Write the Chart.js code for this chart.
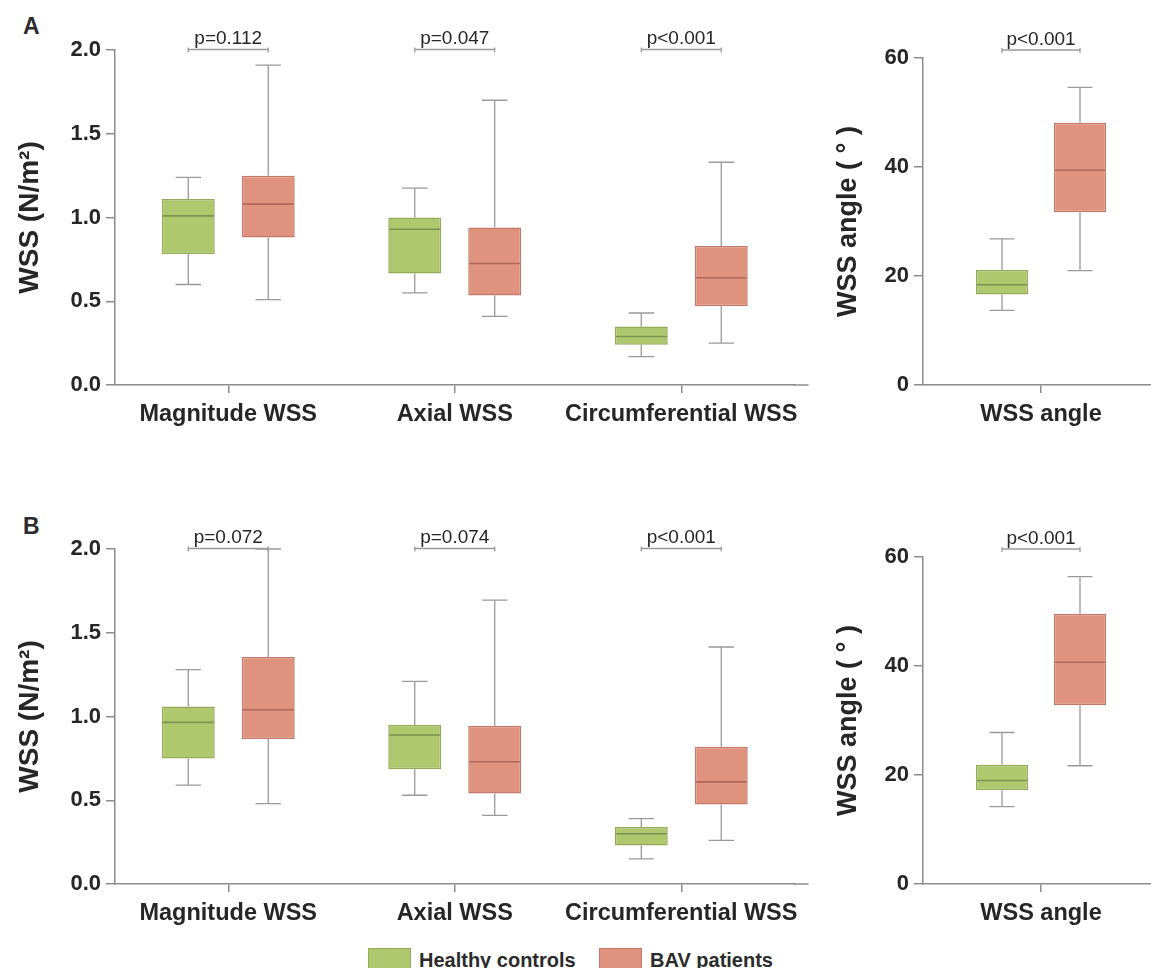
<!DOCTYPE html>
<html>
<head>
<meta charset="utf-8">
<script src="https://cdn.jsdelivr.net/npm/chart.js@4.4.1/dist/chart.umd.min.js"></script>
<style>
    html, body { margin: 0; padding: 0; overflow: hidden; background: #fff; }
    body { width: 1151px; height: 968px; position: relative; font-family: "Liberation Sans", Arial, sans-serif; color: #2b2b2b; }
    canvas { position: absolute; }
    .panel-label { position: absolute; font-weight: bold; font-size: 23px; line-height: 23px; }
    .legend-box { position: absolute; width: 43px; height: 24px; box-sizing: border-box; }
    .legend-text { position: absolute; font-weight: bold; font-size: 20px; line-height: 20px; white-space: nowrap; }
</style>
</head>
<body>
<div class="panel-label" style="left:23px; top:15px;">A</div>
<div class="panel-label" style="left:23px; top:515px;">B</div>

<canvas id="chartA" width="815" height="440" style="left:0; top:0;"></canvas>
<canvas id="chartAngleA" width="365" height="440" style="left:800px; top:0;"></canvas>
<canvas id="chartB" width="815" height="440" style="left:0; top:499px;"></canvas>
<canvas id="chartAngleB" width="365" height="440" style="left:800px; top:499px;"></canvas>

<div id="legend"></div>

<script>
// categories and series
const categories = ["Magnitude WSS", "Axial WSS", "Circumferential WSS"];
const angleCategories = ["WSS angle"];
const seriesNames = ["Healthy controls", "BAV patients"];
const wssTicks = [0, 0.5, 1.0, 1.5, 2.0];
const angleTicks = [0, 20, 40, 60];

// each box: [lower whisker, Q1, median, Q3, upper whisker]
const healthyA = [[0.60, 0.78, 1.01, 1.11, 1.24], [0.55, 0.665, 0.93, 1.00, 1.175], [0.17, 0.24, 0.29, 0.35, 0.43]];
const bavA = [[0.51, 0.88, 1.08, 1.25, 1.91], [0.41, 0.535, 0.725, 0.94, 1.70], [0.25, 0.47, 0.64, 0.83, 1.33]];
const healthyAngleA = [[13.7, 16.6, 18.4, 21.1, 26.8]];
const bavAngleA = [[21.0, 31.7, 39.4, 48.1, 54.6]];
const pValuesA = ["p=0.112", "p=0.047", "p<0.001"];
const pAngleA = ["p<0.001"];

const healthyB = [[0.59, 0.75, 0.965, 1.06, 1.28], [0.53, 0.685, 0.89, 0.95, 1.21], [0.15, 0.23, 0.30, 0.34, 0.39]];
const bavB = [[0.48, 0.865, 1.04, 1.355, 2.0], [0.41, 0.54, 0.73, 0.945, 1.695], [0.26, 0.475, 0.61, 0.82, 1.415]];
const healthyAngleB = [[14.2, 17.2, 19.0, 21.9, 27.8]];
const bavAngleB = [[21.7, 32.8, 40.7, 49.6, 56.4]];
const pValuesB = ["p=0.072", "p=0.074", "p<0.001"];
const pAngleB = ["p<0.001"];

const fills = ["#afc86d", "#df937f"];
const borders = ["#94ab5c", "#c47a68"];
const medians = ["#7b9250", "#b0685a"];
const whiskerColor = "#9a9a9a";
const axisColor = "#8c8c8c";
const textColor = "#262626";
const fontFamily = "'Liberation Sans', Arial, sans-serif";

// draws whiskers, medians and p-value brackets from dataset stats via the chart scales
const boxWhiskerPlugin = {
    id: "boxWhisker",
    beforeDatasetsDraw(chart) {
        const ctx = chart.ctx;
        const y = chart.scales.y;
        ctx.save();
        ctx.strokeStyle = whiskerColor;
        ctx.lineWidth = 1.3;
        chart.data.datasets.forEach((ds, d) => {
            const meta = chart.getDatasetMeta(d);
            meta.data.forEach((bar, i) => {
                const s = ds.stats[i];
                const cap = bar.width * 0.48;
                const yLow = y.getPixelForValue(s[0]);
                const yQ1 = y.getPixelForValue(s[1]);
                const yQ3 = y.getPixelForValue(s[3]);
                const yHigh = y.getPixelForValue(s[4]);
                ctx.beginPath();
                ctx.moveTo(bar.x, yQ3);
                ctx.lineTo(bar.x, yHigh);
                ctx.moveTo(bar.x - cap / 2, yHigh);
                ctx.lineTo(bar.x + cap / 2, yHigh);
                ctx.moveTo(bar.x, yQ1);
                ctx.lineTo(bar.x, yLow);
                ctx.moveTo(bar.x - cap / 2, yLow);
                ctx.lineTo(bar.x + cap / 2, yLow);
                ctx.stroke();
            });
        });
        ctx.restore();
    },
    afterDatasetsDraw(chart, args, opts) {
        const ctx = chart.ctx;
        const y = chart.scales.y;
        ctx.save();
        chart.data.datasets.forEach((ds, d) => {
            const meta = chart.getDatasetMeta(d);
            ctx.strokeStyle = medians[d];
            ctx.lineWidth = 1.6;
            meta.data.forEach((bar, i) => {
                const ym = y.getPixelForValue(ds.stats[i][2]);
                ctx.beginPath();
                ctx.moveTo(bar.x - bar.width / 2 + 1, ym);
                ctx.lineTo(bar.x + bar.width / 2 - 1, ym);
                ctx.stroke();
            });
        });

        // p-value brackets
        const m0 = chart.getDatasetMeta(0);
        const m1 = chart.getDatasetMeta(1);
        const by = opts.bracketY;
        ctx.strokeStyle = whiskerColor;
        ctx.lineWidth = 1.3;
        ctx.fillStyle = textColor;
        ctx.font = "19px " + fontFamily;
        ctx.textAlign = "center";
        ctx.textBaseline = "alphabetic";
        opts.pValues.forEach((p, i) => {
            const x1 = m0.data[i].x;
            const x2 = m1.data[i].x;
            ctx.beginPath();
            ctx.moveTo(x1, by);
            ctx.lineTo(x2, by);
            ctx.moveTo(x1, by - 2);
            ctx.lineTo(x1, by + 3);
            ctx.moveTo(x2, by - 2);
            ctx.lineTo(x2, by + 3);
            ctx.stroke();
            ctx.fillText(p, (x1 + x2) / 2, by - 5.5);
        });

        // x axis line runs a little past the last category
        if (opts.axisExtend) {
            const a = chart.chartArea;
            ctx.strokeStyle = axisColor;
            ctx.lineWidth = 1.5;
            ctx.beginPath();
            ctx.moveTo(a.right - 1, a.bottom);
            ctx.lineTo(a.right + opts.axisExtend, a.bottom);
            ctx.stroke();
        }
        ctx.restore();
    }
};

function makeBoxChart(id, cats, healthy, bav, pValues, cfg) {
    const ticks = cfg.ticks;
    const groups = [healthy, bav];
    new Chart(document.getElementById(id), {
        type: "bar",
        data: {
            labels: cats,
            datasets: groups.map((g, d) => ({
                label: seriesNames[d],
                data: g.map(s => [s[1], s[3]]),
                stats: g,
                backgroundColor: fills[d],
                borderColor: borders[d],
                borderWidth: 1.5,
                borderSkipped: false,
                categoryPercentage: cfg.catPct,
                barPercentage: cfg.barPct
            }))
        },
        options: {
            responsive: false,
            animation: false,
            devicePixelRatio: 1,
            layout: { padding: { left: 0, top: cfg.top, right: cfg.right, bottom: 10 } },
            plugins: {
                legend: { display: false },
                tooltip: { enabled: false },
                boxWhisker: { pValues: pValues, bracketY: cfg.bracketY, axisExtend: cfg.axisExtend }
            },
            scales: {
                x: {
                    offset: true,
                    grid: { offset: false, drawOnChartArea: false, drawTicks: true, tickLength: 8, color: axisColor, lineWidth: 1.5 },
                    border: { color: axisColor, width: 1.5 },
                    ticks: {
                        color: textColor, padding: 7, maxRotation: 0, minRotation: 0, autoSkip: false,
                        font: { family: fontFamily, size: 23.5, weight: "bold" }
                    },
                    afterFit: s => { s.height = 45; }
                },
                y: {
                    min: ticks[0],
                    max: ticks[ticks.length - 1],
                    grid: { drawOnChartArea: false, drawTicks: true, tickLength: 9, color: axisColor, lineWidth: 1.5 },
                    border: { color: axisColor, width: 1.5 },
                    ticks: {
                        stepSize: ticks[1] - ticks[0],
                        color: textColor,
                        padding: 5,
                        font: { family: fontFamily, size: 22, weight: "bold" },
                        callback: v => cfg.decimals ? Number(v).toFixed(cfg.decimals) : v
                    },
                    title: {
                        display: true,
                        text: cfg.title,
                        color: textColor,
                        padding: { top: cfg.titlePad, bottom: 0 },
                        font: { family: fontFamily, size: cfg.titleSize, weight: "bold" }
                    },
                    afterFit: s => { s.width = cfg.axisWidth; }
                }
            }
        },
        plugins: [boxWhiskerPlugin]
    });
}

const wssCfg = {
    ticks: wssTicks, decimals: 1, title: "WSS (N/m\u00B2)", titleSize: 28, titlePad: 13,
    axisWidth: 115, top: 50, right: 20.5, catPct: 0.706, barPct: 0.6625, bracketY: 49.5, axisExtend: 14
};
const angleCfg = {
    ticks: angleTicks, decimals: 0, title: "WSS angle ( \u00B0 )", titleSize: 27, titlePad: 32,
    axisWidth: 123, top: 58, right: 6, catPct: 0.661, barPct: 0.667, bracketY: 50, axisExtend: 0
};

makeBoxChart("chartA", categories, healthyA, bavA, pValuesA, wssCfg);
makeBoxChart("chartAngleA", angleCategories, healthyAngleA, bavAngleA, pAngleA, angleCfg);
makeBoxChart("chartB", categories, healthyB, bavB, pValuesB, wssCfg);
makeBoxChart("chartAngleB", angleCategories, healthyAngleB, bavAngleB, pAngleB, angleCfg);

// shared legend
const legend = document.getElementById("legend");
const legendX = [368, 599];
seriesNames.forEach((name, d) => {
    const box = document.createElement("div");
    box.className = "legend-box";
    box.style.left = legendX[d] + "px";
    box.style.top = "948px";
    box.style.background = fills[d];
    box.style.border = "1px solid " + borders[d];
    legend.appendChild(box);
    const txt = document.createElement("div");
    txt.className = "legend-text";
    txt.style.left = (legendX[d] + 51) + "px";
    txt.style.top = "950px";
    txt.textContent = name;
    legend.appendChild(txt);
});
</script>
</body>
</html>
